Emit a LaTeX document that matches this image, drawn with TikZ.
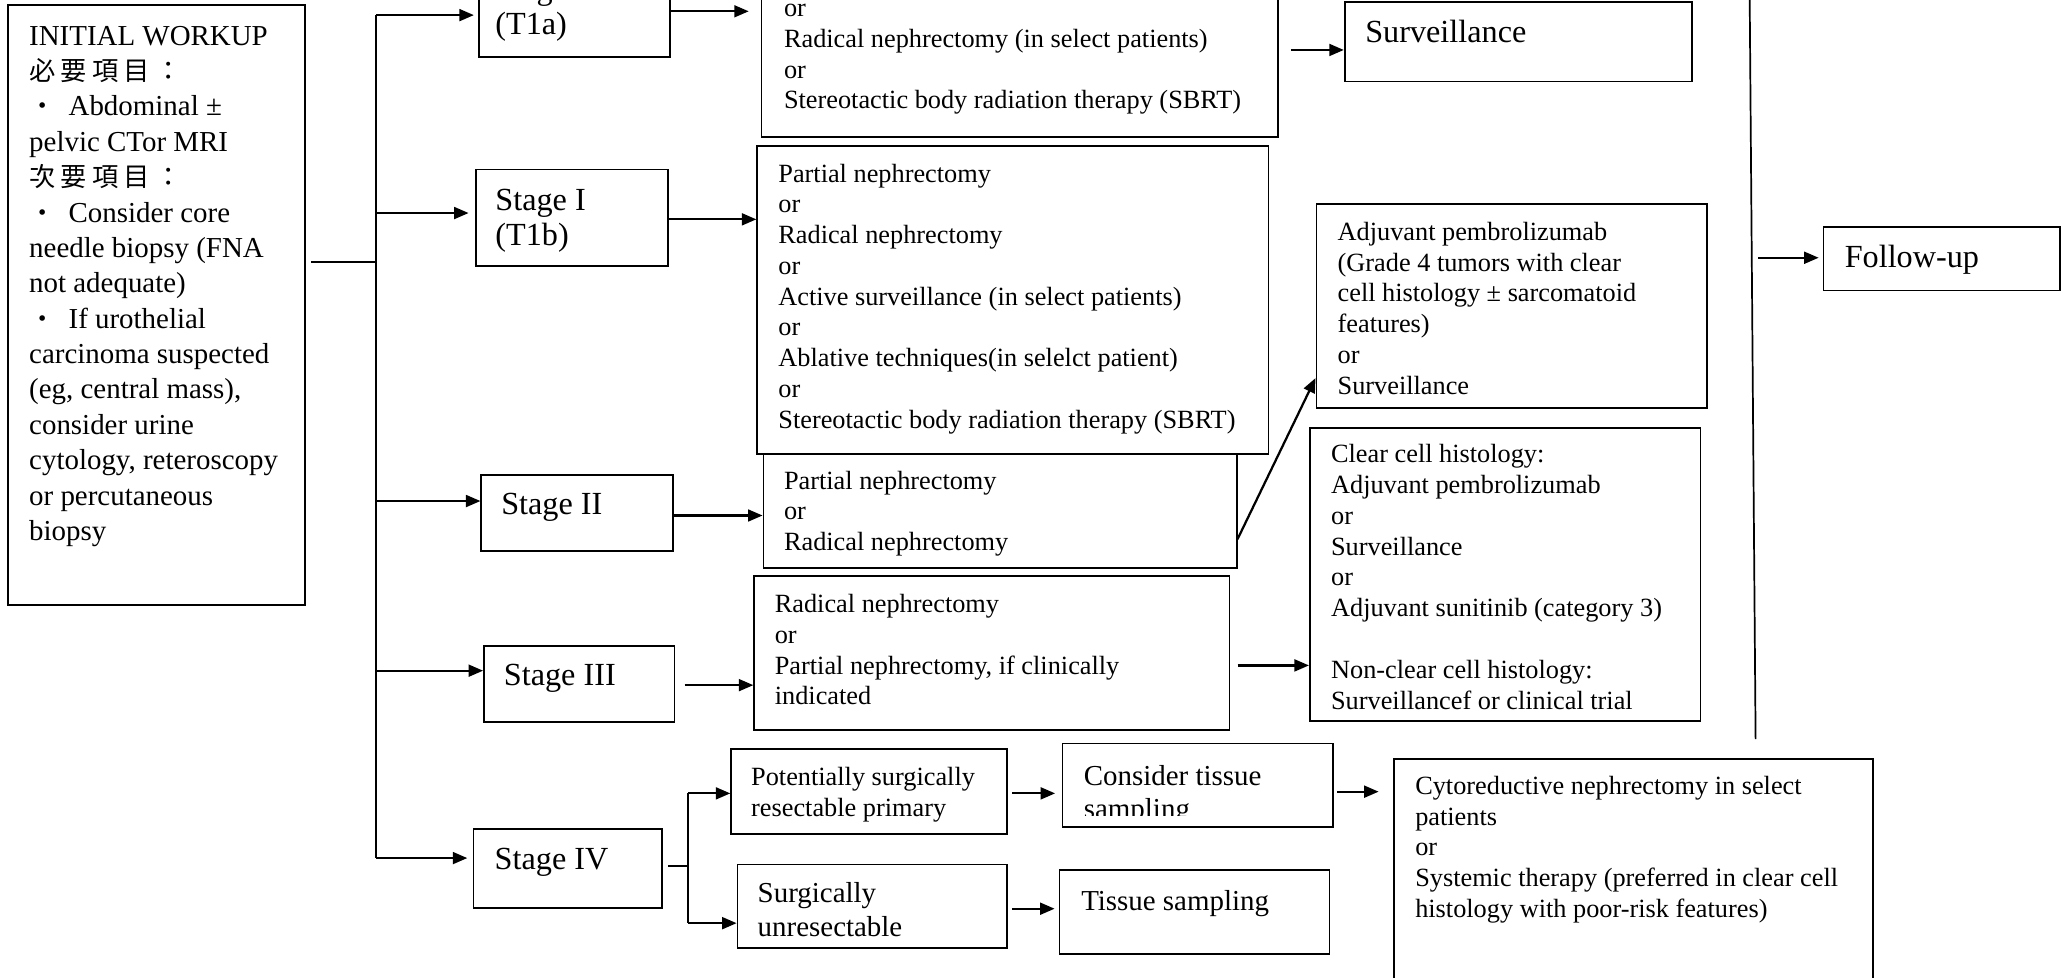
\documentclass[tikz,border=0pt]{standalone}
\usepackage{fontspec}
\setmainfont{Liberation Serif}
\newfontfamily\cjkfont{Noto Sans CJK TC}
\usetikzlibrary{arrows.meta,fit}
% font sizes used in the chart
\newcommand\bodyfont{\fontsize{20}{23.4}\selectfont}
\newcommand\stagefont{\fontsize{24.5}{27}\selectfont}
\newcommand\midfont{\fontsize{22}{25}\selectfont}
\newcommand\workfont{\fontsize{22}{26.9}\selectfont}
% stacked lines whose baseline is the first line
\newcommand\lines[1]{\begin{tabular}[t]{@{}l@{}}#1\end{tabular}}
% spaced-out CJK heading and bullet mark of the work-up list
\newcommand\cjkhead[5]{{\cjkfont\fontsize{20}{26.9}\selectfont #1\hspace{4pt}#2\hspace{4pt}#3\hspace{4pt}#4\hspace{4pt}#5}}
\newcommand\dotitem{{\cjkfont\fontsize{20}{26.9}\selectfont ・}\hspace*{10pt}}
\begin{document}
\begin{tikzpicture}[x=1pt,y=-1pt,
  box/.style={draw,line width=1.3pt,inner sep=0pt},
  txt/.style={anchor=base west,inner sep=0pt,font=\bodyfont},
  ln/.style={line width=1.3pt},
  arr/.style={line width=1.7pt,-{Triangle[length=11pt,width=9pt]}}]
\useasboundingbox (0,0) rectangle (1568,743);

% ---------- boxes ----------
\node[box,fit={(6,4) (232,460)}] (iw) {};
\node[box,fit={(364,-40) (509.5,43.6)}] (t1a) {};
\node[box,fit={(579,-60) (972,104)}] (t1aopt) {};
\node[box,fit={(1022.5,1.3) (1286.5,62)}] (surv) {};
\node[box,fit={(362,128.8) (507.7,202.3)}] (s1) {};
\node[box,fit={(575.8,111) (964.5,345)}] (s1opt) {};
\node[box,fit={(366,361) (512,419)}] (s2) {};
\node[box,fit={(580.5,345) (940.4,432)}] (s2opt) {};
\node[box,fit={(1001,155) (1298,310)}] (adj) {};
\node[box,fit={(368,491) (513,549)}] (s3) {};
\node[box,fit={(573.5,438) (935,555)}] (s3opt) {};
\node[box,fit={(996,325.7) (1293,548)}] (clear) {};
\node[box,fit={(1386.6,172.5) (1566.6,220.9)}] (fu) {};
\node[box,fit={(360,630.4) (503.6,690.7)}] (s4) {};
\node[box,fit={(556,569.4) (766,634)}] (pot) {};
\node[box,fit={(808,565.3) (1013.4,628.7)}] (cons) {};
\node[box,fit={(1060,577) (1424,790)}] (cyto) {};
\node[box,fit={(560.8,657.3) (765.8,720.9)}] (unres) {};
\node[box,fit={(805.6,661.8) (1011,725.4)}] (tis) {};

% ---------- texts ----------
\node[txt,font=\workfont] (iwtxt) at (22,34.4) {\lines{INITIAL WORKUP\\
\cjkhead{必}{要}{項}{目}{：}\\
\dotitem Abdominal ±\\
pelvic CTor MRI\\
\cjkhead{次}{要}{項}{目}{：}\\
\dotitem Consider core\\
needle biopsy (FNA\\
not adequate)\\
\dotitem If urothelial\\
carcinoma suspected\\
(eg, central mass),\\
consider urine\\
cytology, reteroscopy\\
or percutaneous\\
biopsy}};

\node[txt,font=\stagefont] (t1atxt) at (376.5,-0.4) {\lines{Stage I\\(T1a)}};
\node[txt] (t1aopttxt) at (596,12.6) {\lines{or\\Radical nephrectomy (in select patients)\\or\\Stereotactic body radiation therapy (SBRT)}};
\node[txt,font=\stagefont] (survtxt) at (1038,32.5) {Surveillance};

\node[txt,font=\stagefont] (s1txt) at (376.5,159.7) {\lines{Stage I\\(T1b)}};
\node[txt] (s1opttxt) at (591.7,138.5) {\lines{Partial nephrectomy\\or\\Radical nephrectomy\\or\\Active surveillance (in select patients)\\or\\Ablative techniques(in selelct patient)\\or\\Stereotactic body radiation therapy (SBRT)}};

\node[txt,font=\stagefont] (s2txt) at (381,391.6) {Stage II};
\node[txt] (s2opttxt) at (596,372) {\lines{Partial nephrectomy\\or\\Radical nephrectomy}};

\node[txt] (adjtxt) at (1017,182.8) {\lines{Adjuvant pembrolizumab\\(Grade 4 tumors with clear\\cell histology ± sarcomatoid\\features)\\or\\Surveillance}};

\node[txt,font=\stagefont] (s3txt) at (383,521) {Stage III};
\node[txt] (s3opttxt) at (589,465.8) {\lines{Radical nephrectomy\\or\\Partial nephrectomy, if clinically\\indicated}};

\node[txt] (cleartxt) at (1012,352) {\lines{Clear cell histology:\\Adjuvant pembrolizumab\\or\\Surveillance\\or\\Adjuvant sunitinib (category 3)\\ \\Non-clear cell histology:\\Surveillancef or clinical trial}};

\node[txt,font=\stagefont] (futxt) at (1402.6,203.4) {Follow-up};

\node[txt,font=\stagefont] (s4txt) at (376,661.3) {Stage IV};
\node[txt] (pottxt) at (571,597.5) {\lines{Potentially surgically\\resectable primary}};
\begin{scope}
  \clip (808,565.3) rectangle (1013.4,620);
  \node[txt,font=\midfont] (constxt) at (824,597.5) {\lines{Consider tissue\\sampling}};
\end{scope}
\node[txt] (cytotxt) at (1076,604) {\lines{Cytoreductive nephrectomy in select\\patients\\or\\Systemic therapy (preferred in clear cell\\histology with poor-risk features)}};
\node[txt,font=\fontsize{22}{26.4}\selectfont] (unrestxt) at (576,686) {\lines{Surgically\\unresectable}};
\node[txt,font=\midfont] (tistxt) at (822,692.3) {Tissue sampling};

% ---------- connectors ----------
% left trunk from the work-up box to the stages
\coordinate (jn) at (286,199);
\coordinate (tr1) at (286,11.5);
\coordinate (tr2) at (286,162);
\coordinate (tr3) at (286,381);
\coordinate (tr4) at (286,510);
\coordinate (tr5) at (286,652.5);
\draw[ln,shorten <=4pt] (iw.east |- jn) -- (jn);
\draw[ln] (tr1) -- (tr5);
\draw[arr,shorten >=3pt] (tr1) -- (tr1 -| t1a.west);
\draw[arr,shorten >=5pt] (tr2) -- (tr2 -| s1.west);
\draw[arr] (tr3) -- (tr3 -| s2.west);
\draw[arr] (tr4) -- (tr4 -| s3.west);
\draw[arr,shorten >=4pt] (tr5) -- (tr5 -| s4.west);

% stage to treatment
\draw[arr,shorten >=9pt] (t1a.east |- 0,8.6) -- (t1aopt.west |- 0,8.6);
\draw[arr,shorten <=9pt] (t1aopt.east |- 0,38) -- (surv.west |- 0,38);
\draw[arr] (s1.east |- 0,166.8) -- (s1opt.west |- 0,166.8);
\draw[arr] (s2.east |- 0,392) -- (s2opt.west |- 0,392);
\draw[arr] (s2opt.east |- 0,410) -- (adj.west |- 0,287.5);
\draw[arr,shorten <=7pt] (s3.east |- 0,521) -- (s3opt.west |- 0,521);
\draw[arr,shorten <=5.5pt] (s3opt.east |- 0,506) -- (clear.west |- 0,506);

% right trunk to follow-up
\coordinate (rtTop) at (1330.5,-2);
\coordinate (rtBot) at (1335,562);
\coordinate (rtF) at (1334,196);
\draw[ln] (rtTop) -- (rtBot);
\draw[arr,shorten <=3pt,shorten >=3pt] (rtF) -- (fu.west |- rtF);

% stage IV split
\coordinate (sp) at (523.4,658.6);
\coordinate (spT) at (523.4,603.3);
\coordinate (spB) at (523.4,702);
\draw[ln,shorten <=4pt,shorten >=1pt] (s4.east |- sp) -- (sp);
\draw[ln] (spT) -- (spB);
\draw[arr] (spT) -- (spT -| pot.west);
\draw[arr] (spB) -- (spB -| unres.west);
\draw[arr,shorten <=3pt,shorten >=5pt] (pot.east |- spT) -- (cons.west |- spT);
\draw[arr,shorten <=3pt,shorten >=3pt] (unres.east |- 0,691) -- (tis.west |- 0,691);
\draw[arr,shorten <=3pt,shorten >=11pt] (cons.east |- 0,602) -- (cyto.west |- 0,602);
\end{tikzpicture}
\end{document}
